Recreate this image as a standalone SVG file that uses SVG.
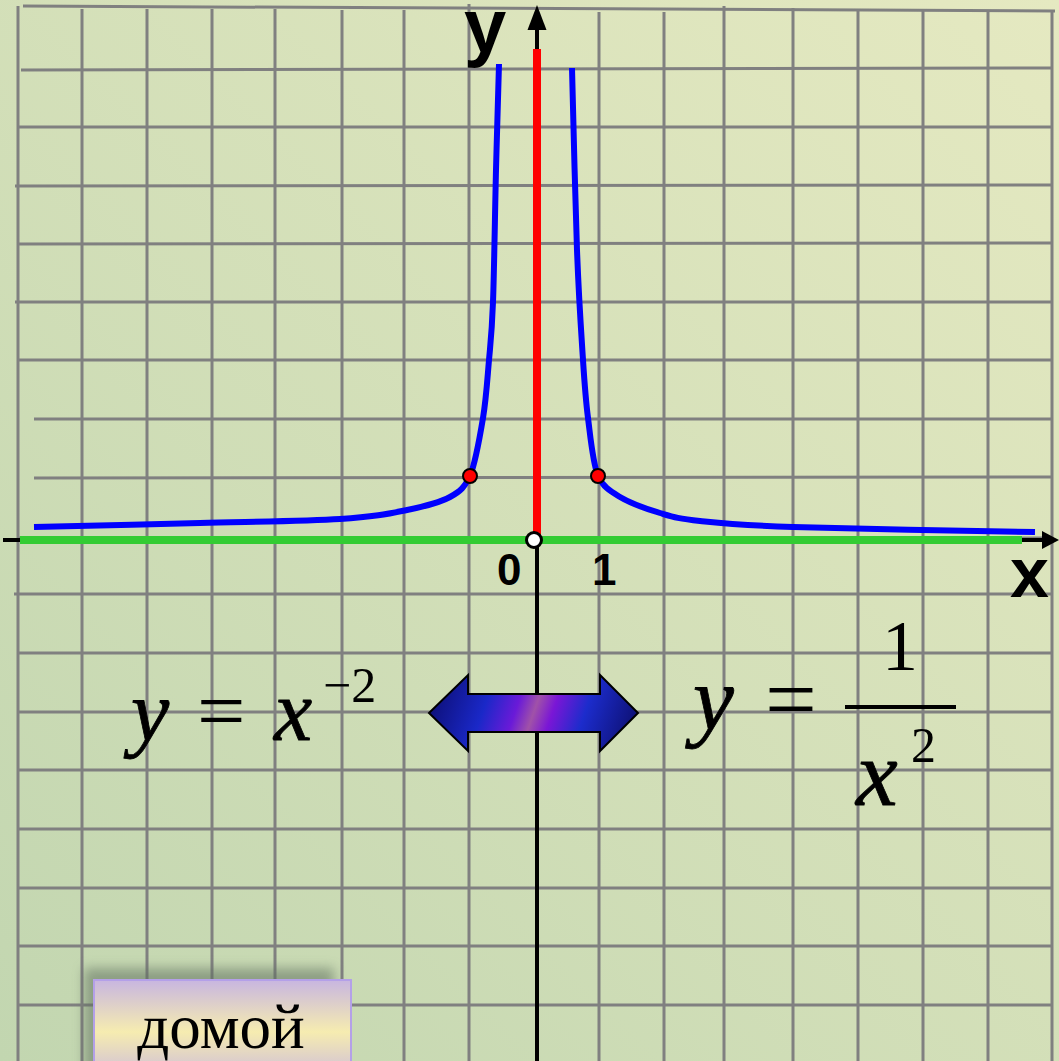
<svg xmlns="http://www.w3.org/2000/svg" width="1059" height="1061" viewBox="0 0 1059 1061">
<defs>
<linearGradient id="bg" gradientUnits="userSpaceOnUse" x1="0" y1="1061" x2="1059" y2="0">
<stop offset="0" stop-color="#c2d6b0"/>
<stop offset="1" stop-color="#e5e9c1"/>
</linearGradient>
<linearGradient id="arrowFill" gradientUnits="userSpaceOnUse" x1="429" y1="677" x2="638" y2="749">
<stop offset="0" stop-color="#0b0b6a"/>
<stop offset="0.28" stop-color="#1a28c8"/>
<stop offset="0.42" stop-color="#6a1ad8"/>
<stop offset="0.5" stop-color="#a052a8"/>
<stop offset="0.58" stop-color="#7a16d6"/>
<stop offset="0.72" stop-color="#1c2ccc"/>
<stop offset="1" stop-color="#0b0b62"/>
</linearGradient>
<linearGradient id="btnFill" gradientUnits="userSpaceOnUse" x1="0" y1="980" x2="0" y2="1084">
<stop offset="0" stop-color="#c8b6e0"/>
<stop offset="0.5" stop-color="#f6ecb0"/>
<stop offset="1" stop-color="#c8b6e0"/>
</linearGradient>
<filter id="blur" x="-20%" y="-20%" width="140%" height="140%">
<feGaussianBlur stdDeviation="6"/>
</filter>
<style>
.grid line{stroke:#808080;stroke-width:3}
.ax{stroke:#000;fill:none}
.curve{fill:none;stroke:#0000ff;stroke-width:6}
.dot{fill:#ff0000;stroke:#000;stroke-width:2}
.lbl{font-family:"Liberation Sans",Arial,sans-serif;font-weight:bold;fill:#000}
.fm{font-family:"Liberation Serif","Times New Roman",serif;fill:#000}
.it{font-style:italic;stroke:#000;stroke-width:0.8}
</style>
</defs>

<rect id="background" x="0" y="0" width="1059" height="1061" fill="url(#bg)"/>

<g id="grid" class="grid">
<line x1="23" y1="6" x2="1055" y2="11"/>
<line x1="21" y1="70" x2="1052" y2="68"/>
<line x1="18" y1="127" x2="1052" y2="127"/>
<line x1="15" y1="186" x2="1052" y2="185"/>
<line x1="18" y1="244" x2="1052" y2="243"/>
<line x1="15" y1="302" x2="1052" y2="302"/>
<line x1="18" y1="360" x2="1052" y2="360"/>
<line x1="34" y1="419" x2="1052" y2="419"/>
<line x1="34" y1="478" x2="1052" y2="477"/>
<line x1="18" y1="538" x2="1052" y2="538"/>
<line x1="14" y1="594" x2="1052" y2="594"/>
<line x1="18" y1="653" x2="1052" y2="653"/>
<line x1="18" y1="712" x2="1052" y2="712"/>
<line x1="18" y1="770" x2="1052" y2="770"/>
<line x1="18" y1="829" x2="1052" y2="829"/>
<line x1="18" y1="888" x2="1052" y2="888"/>
<line x1="18" y1="946" x2="1052" y2="946"/>
<line x1="18" y1="1005" x2="1052" y2="1005"/>
<line x1="18" y1="6" x2="18" y2="1061"/>
<line x1="82" y1="9" x2="82" y2="1061"/>
<line x1="147" y1="9" x2="147" y2="1061"/>
<line x1="212" y1="9" x2="212" y2="1061"/>
<line x1="275" y1="9" x2="275" y2="1061"/>
<line x1="342" y1="10" x2="342" y2="1061"/>
<line x1="404" y1="10" x2="404" y2="1061"/>
<line x1="469" y1="4" x2="469" y2="1061"/>
<line x1="599" y1="12" x2="599" y2="1061"/>
<line x1="664" y1="12" x2="664" y2="1061"/>
<line x1="724" y1="6" x2="724" y2="1061"/>
<line x1="793" y1="8" x2="793" y2="1061"/>
<line x1="858" y1="10" x2="858" y2="1061"/>
<line x1="923" y1="10" x2="923" y2="1061"/>
<line x1="988" y1="10" x2="988" y2="1061"/>
<line x1="1052" y1="11" x2="1052" y2="1061"/>
</g>

<g id="connectors">
<g id="x-axis">
<line class="ax" x1="3" y1="540" x2="1045" y2="540" stroke-width="4"/>
<polygon points="1059,540 1042,531 1042,549" fill="#000"/>
<line x1="20" y1="540" x2="1022" y2="540" stroke="#33cc33" stroke-width="8"/>
</g>
<g id="y-axis">
<line class="ax" x1="537" y1="1061" x2="537" y2="28" stroke-width="4"/>
<polygon points="537,5 527.5,30 546.5,30" fill="#000"/>
<line x1="537" y1="49" x2="537" y2="540" stroke="#ff0000" stroke-width="8"/>
</g>
<g id="graph">
<path class="curve" d="M34,527 C61.7,526.3 149,524.3 200,523 C251,521.7 305.5,521.2 340,519 C374.5,516.8 388.7,513.7 407,510 C425.3,506.3 439.5,502.7 450,497 C460.5,491.3 464.5,487.2 470,476 C475.5,462.8 479.8,437.3 483,418 C486.2,398.7 487.3,379.3 489,360 C490.7,340.7 491.8,333.7 493,302 C494.2,270.3 495,209.7 496,170 C497,130.3 498.5,86.7 499,64"/>
<path class="curve" d="M572,68 C572.8,98.3 575.2,201.3 577,250 C578.8,298.7 581.2,332 583,360 C584.8,388 585.5,398.7 588,418 C590.5,437.3 592.7,462.8 598,476 C603.3,487.2 609.7,490.8 620,497 C630.3,503.2 646.7,509 660,513 C673.3,517 677.8,518.7 700,521 C722.2,523.3 737.2,525.2 793,527 C848.8,528.8 994.7,531.2 1035,532"/>
</g>
</g>

<g id="points">
<circle class="dot" cx="470" cy="476" r="7"/>
<circle class="dot" cx="598" cy="476" r="7"/>
<circle cx="534" cy="540" r="7.5" fill="#ffffff" stroke="#000" stroke-width="3"/>
</g>

<g id="axis-labels">
<text class="lbl" x="464" y="52" font-size="76">y</text>
<text class="lbl" x="1010" y="597" font-size="70">x</text>
<text class="lbl" x="497" y="585" font-size="44">0</text>
<text class="lbl" x="592" y="585" font-size="44">1</text>
</g>

<g id="formula-left">
<text class="fm it" x="131" y="740" font-size="86">y</text>
<text class="fm" x="197" y="740" font-size="86">=</text>
<text class="fm it" x="274" y="740" font-size="86">x</text>
<text class="fm" x="323" y="702" font-size="50">−2</text>
</g>

<g id="double-arrow">
<polygon points="429,713 468,675 468,694 600,694 600,675 638,713 600,751 600,732 468,732 468,751" fill="url(#arrowFill)" stroke="#000" stroke-width="2" stroke-linejoin="miter"/>
</g>

<g id="formula-right">
<text class="fm it" x="693" y="730" font-size="92">y</text>
<text class="fm" x="765" y="730" font-size="92">=</text>
<text class="fm" x="900" y="670" font-size="72" text-anchor="middle">1</text>
<line x1="845" y1="707" x2="956" y2="707" stroke="#000" stroke-width="4"/>
<text class="fm it" x="856" y="805" font-size="94">x</text>
<text class="fm" x="911" y="762" font-size="50">2</text>
</g>

<g id="home-button">
<rect x="84" y="968" width="250" height="110" fill="#5f6f5f" opacity="0.55" filter="url(#blur)"/>
<rect x="94" y="980" width="257" height="100" fill="url(#btnFill)" stroke="#b4a0e8" stroke-width="2"/>
<text class="fm" x="221" y="1048" font-size="63" text-anchor="middle">домой</text>
</g>
</svg>
